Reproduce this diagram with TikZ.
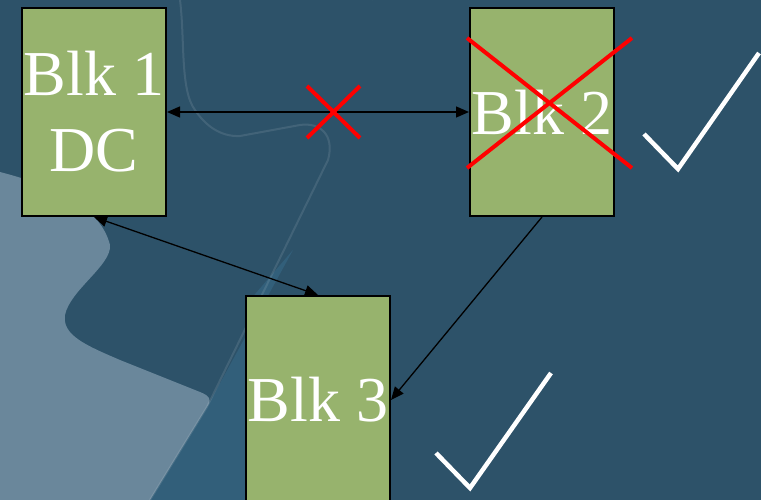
\documentclass[tikz,border=0pt]{standalone}
\usepackage{fontspec}
\setmainfont{Liberation Serif}
\usetikzlibrary{arrows.meta}
\definecolor{bgblue}{HTML}{2D5269}
\definecolor{bglight}{HTML}{6A879B}
\definecolor{bgmid}{HTML}{356582}
\definecolor{blkgreen}{HTML}{97B36D}
\tikzset{
  blk/.style={draw=black, line width=2pt, fill=blkgreen, text=white,
    minimum width=144pt, minimum height=208pt, inner sep=0pt, align=center,
    font=\fontsize{64}{76}\selectfont},
  conn/.style={line width=1.3pt, black, arrows={Triangle[length=13pt,width=11pt]-Triangle[length=13pt,width=11pt]}},
  connone/.style={line width=1.3pt, black, arrows={-Triangle[length=13pt,width=11pt]}},
  cross/.style={red, line width=4pt},
  tick/.style={white, line width=4.5pt},
  edge/.style={white, opacity=0.10, line width=2pt}
}
\begin{document}
\begin{tikzpicture}[x=1pt,y=-1pt]
\useasboundingbox (0,0) rectangle (761,500);
% background
\fill[bgblue] (0,0) rectangle (761,500);
\fill[bgmid, opacity=0.7] (293,250) -- (207,407) -- (150,500) -- (250,500) -- (250,300) -- cycle;
\fill[bglight] (0,172) .. controls (50,185) and (100,205) .. (110,245)
  .. controls (112,265) and (70,290) .. (65,315)
  .. controls (62,335) and (85,345) .. (120,360)
  -- (200,392) .. controls (210,396) and (212,400) .. (207,407)
  -- (150,500) -- (0,500) -- cycle;
\draw[edge] (180,0) .. controls (185,40) and (180,90) .. (195,110)
  .. controls (205,125) and (220,137) .. (240,136)
  -- (300,125) .. controls (320,122) and (335,135) .. (328,160)
  -- (207,407) -- (150,500);
\draw[edge] (372,0) arc[start angle=180, end angle=330, radius=14];
% blocks
\node[blk] (b1) at (94,112) {Blk 1\\DC};
\node[blk] (b2) at (542,112) {Blk 2};
\node[blk] (b3) at (318,400) {Blk 3};
% connectors
\draw[conn] (b1.east) -- (b2.west);
\draw[conn] (b1.south) -- (b3.north);
\draw[connone] (b2.south) -- (b3.east);
% red crosses
\coordinate (xa1) at (307,86);
\coordinate (xa2) at (360,138);
\coordinate (xa3) at (307,138);
\coordinate (xa4) at (360,86);
\draw[cross] (xa1) -- (xa2) (xa3) -- (xa4);
\coordinate (xb1) at (467,38);
\coordinate (xb2) at (632,168);
\coordinate (xb3) at (467,168);
\coordinate (xb4) at (632,38);
\draw[cross] (xb1) -- (xb2) (xb3) -- (xb4);
% check marks
\coordinate (ta1) at (644,134);
\coordinate (ta2) at (678,169);
\coordinate (ta3) at (759,53);
\draw[tick] (ta1) -- (ta2) -- (ta3);
\coordinate (tb1) at (436,453);
\coordinate (tb2) at (470,488);
\coordinate (tb3) at (551,373);
\draw[tick] (tb1) -- (tb2) -- (tb3);
\end{tikzpicture}
\end{document}
